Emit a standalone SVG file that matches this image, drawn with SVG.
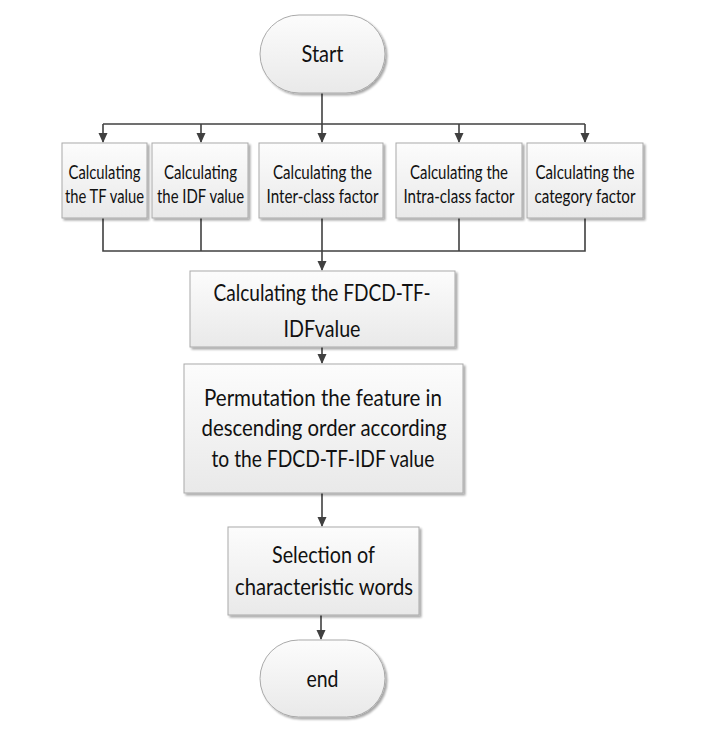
<svg xmlns="http://www.w3.org/2000/svg" width="705" height="732" viewBox="0 0 705 732">
<defs>
<linearGradient id="g" x1="0" y1="0" x2="0" y2="1">
<stop offset="0" stop-color="#fcfcfc"/>
<stop offset="1" stop-color="#e9e9e9"/>
</linearGradient>
<filter id="sh" x="-10%" y="-10%" width="125%" height="130%">
<feGaussianBlur in="SourceAlpha" stdDeviation="1.2"/>
<feOffset dx="1.5" dy="1.5" result="b"/>
<feComponentTransfer><feFuncA type="linear" slope="0.35"/></feComponentTransfer>
<feMerge><feMergeNode/><feMergeNode in="SourceGraphic"/></feMerge>
</filter>
<marker id="arr" markerWidth="10" markerHeight="10" refX="9" refY="5" orient="auto" markerUnits="userSpaceOnUse">
<path d="M0,0.5 L10,5 L0,9.5 Z" fill="#404040"/>
</marker>
</defs>
<style>
.box{fill:url(#g);stroke:#a9a9a9;stroke-width:1;filter:url(#sh)}
text{font-family:Lato,"Liberation Sans",sans-serif;fill:#111;text-anchor:middle}
.s{font-size:18.5px}
.m{font-size:24px}
.l{font-size:23px}
.c{fill:none;stroke:#404040;stroke-width:1.6}
</style>
<rect width="705" height="732" fill="#fff"/>
<g id="connectors">
<path class="c" d="M322,93 V124"/>
<path class="c" d="M103,124 H585"/>
<path class="c" d="M103,124 V142" marker-end="url(#arr)"/>
<path class="c" d="M201,124 V142" marker-end="url(#arr)"/>
<path class="c" d="M322,124 V142" marker-end="url(#arr)"/>
<path class="c" d="M459,124 V142" marker-end="url(#arr)"/>
<path class="c" d="M585,124 V142" marker-end="url(#arr)"/>
<path class="c" d="M103,218 V251 H585 V218"/>
<path class="c" d="M201,218 V251"/>
<path class="c" d="M322,218 V251"/>
<path class="c" d="M459,218 V251"/>
<path class="c" d="M322,251 V270" marker-end="url(#arr)"/>
<path class="c" d="M322,347 V363" marker-end="url(#arr)"/>
<path class="c" d="M322,493 V526" marker-end="url(#arr)"/>
<path class="c" d="M321,615 V639" marker-end="url(#arr)"/>
</g>
<g id="start">
<rect class="box" x="260" y="15" width="125" height="78" rx="39" ry="39"/>
<text class="l" x="322.5" y="61.7" textLength="42" lengthAdjust="spacingAndGlyphs">Start</text>
</g>
<g id="tf">
<rect class="box" x="62" y="143" width="85" height="75"/>
<text class="s" x="104.5" y="179" textLength="72" lengthAdjust="spacingAndGlyphs">Calculating</text>
<text class="s" x="104.5" y="203" textLength="79" lengthAdjust="spacingAndGlyphs">the TF value</text>
</g>
<g id="idf">
<rect class="box" x="152" y="143" width="96" height="75"/>
<text class="s" x="200.5" y="179" textLength="73" lengthAdjust="spacingAndGlyphs">Calculating</text>
<text class="s" x="200.5" y="203" textLength="87" lengthAdjust="spacingAndGlyphs">the IDF value</text>
</g>
<g id="inter">
<rect class="box" x="259" y="143" width="124" height="75"/>
<text class="s" x="322.5" y="179" textLength="99" lengthAdjust="spacingAndGlyphs">Calculating the</text>
<text class="s" x="322.5" y="203" textLength="112" lengthAdjust="spacingAndGlyphs">Inter-class factor</text>
</g>
<g id="intra">
<rect class="box" x="396" y="143" width="126" height="75"/>
<text class="s" x="459" y="179" textLength="98" lengthAdjust="spacingAndGlyphs">Calculating the</text>
<text class="s" x="459" y="203" textLength="111" lengthAdjust="spacingAndGlyphs">Intra-class factor</text>
</g>
<g id="category">
<rect class="box" x="527" y="143" width="116" height="75"/>
<text class="s" x="585" y="179" textLength="99" lengthAdjust="spacingAndGlyphs">Calculating the</text>
<text class="s" x="585" y="203" textLength="101" lengthAdjust="spacingAndGlyphs">category factor</text>
</g>
<g id="fdcd">
<rect class="box" x="190" y="271" width="265" height="76"/>
<text class="m" x="322" y="301" textLength="217" lengthAdjust="spacingAndGlyphs">Calculating the FDCD-TF-</text>
<text class="m" x="322" y="337" textLength="77" lengthAdjust="spacingAndGlyphs">IDFvalue</text>
</g>
<g id="permutation">
<rect class="box" x="184" y="364" width="279" height="129"/>
<text class="m" x="323" y="405.5" textLength="238" lengthAdjust="spacingAndGlyphs">Permutation the feature in</text>
<text class="m" x="324" y="436" textLength="245" lengthAdjust="spacingAndGlyphs">descending order according</text>
<text class="m" x="323" y="466.5" textLength="223" lengthAdjust="spacingAndGlyphs">to the FDCD-TF-IDF value</text>
</g>
<g id="selection">
<rect class="box" x="228" y="527" width="191" height="88"/>
<text class="m" x="323.5" y="563.3" textLength="103" lengthAdjust="spacingAndGlyphs">Selection of</text>
<text class="m" x="324" y="595" textLength="178" lengthAdjust="spacingAndGlyphs">characteristic words</text>
</g>
<g id="end">
<rect class="box" x="260" y="640" width="125" height="77" rx="38.5" ry="38.5"/>
<text class="l" x="322.5" y="687" textLength="32" lengthAdjust="spacingAndGlyphs">end</text>
</g>
</svg>
